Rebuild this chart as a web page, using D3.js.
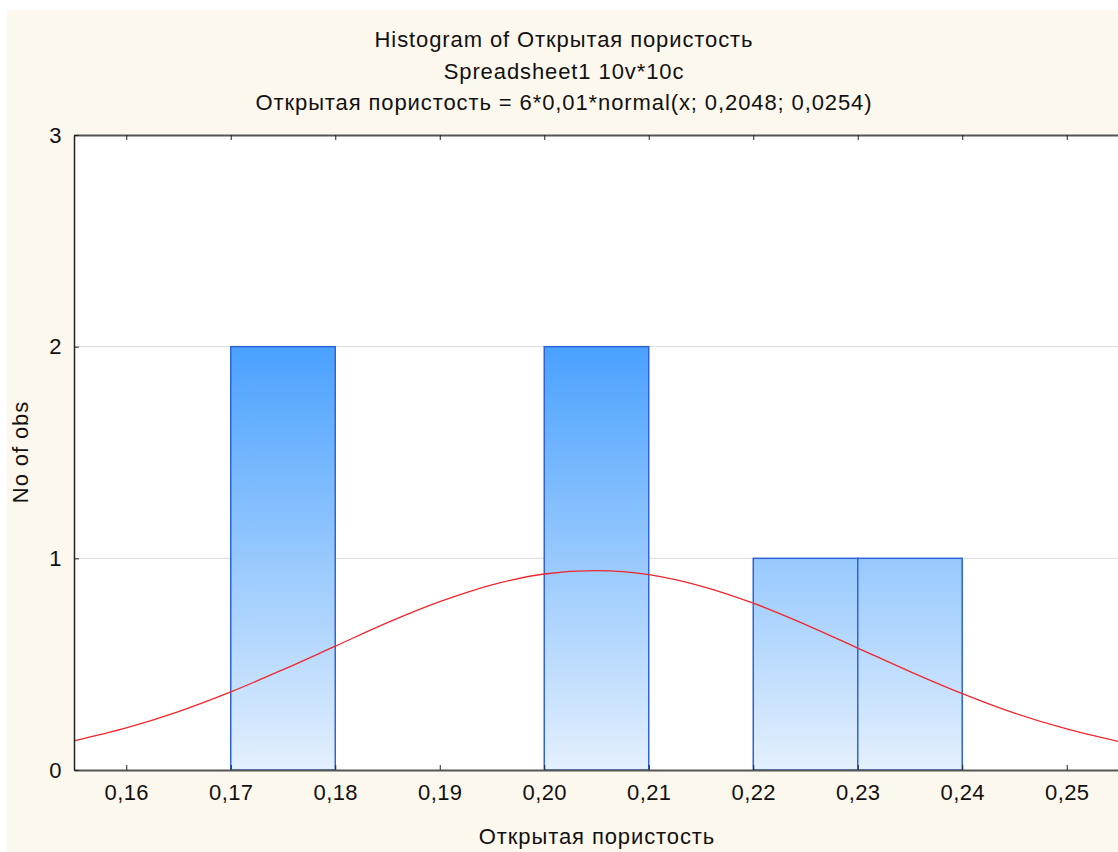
<!DOCTYPE html>
<meta charset="utf-8">
<style>
body { margin: 0; background: #fff; }
svg text { font-family: "Liberation Sans", Arial, sans-serif; fill: #111; }
.tick text { font-size: 22px; letter-spacing: 0.4px; }
.label { font-size: 22px; letter-spacing: 0.9px; }
</style>
<body>
<svg id="chart" width="1118" height="852"></svg>
<script src="https://cdn.jsdelivr.net/npm/d3@7/dist/d3.min.js"></script>
<script>
// histogram bins (lower edge, upper edge, count)
const binStart = [0.17, 0.20, 0.22, 0.23];
const binEnd   = [0.18, 0.21, 0.23, 0.24];
const counts   = [2, 2, 1, 1];

// fitted normal curve
const curveX = [0.155, 0.160, 0.165, 0.170, 0.175, 0.180, 0.185, 0.190, 0.195, 0.200, 0.205,
                0.210, 0.215, 0.220, 0.225, 0.230, 0.235, 0.240, 0.245, 0.250, 0.255];
const curveY = [0.138, 0.199, 0.276, 0.369, 0.474, 0.585, 0.696, 0.795, 0.875, 0.926, 0.942,
                0.923, 0.869, 0.788, 0.687, 0.576, 0.465, 0.361, 0.269, 0.194, 0.134];

const xTicks = [0.16, 0.17, 0.18, 0.19, 0.20, 0.21, 0.22, 0.23, 0.24, 0.25];
const yTicks = [0, 1, 2, 3];

const titleLines = [
  "Histogram of Открытая пористость",
  "Spreadsheet1 10v*10c",
  "Открытая пористость = 6*0,01*normal(x; 0,2048; 0,0254)"
];

const svg = d3.select("#chart");
const margin = {top: 135, left: 74, bottom: 770, right: 1119};

// beige frame
svg.append("rect").attr("x", 7).attr("y", 10).attr("width", 1111).attr("height", 842).attr("fill", "#fdf8ee");
svg.append("rect").attr("x", margin.left).attr("y", margin.top)
  .attr("width", margin.right - margin.left).attr("height", margin.bottom - margin.top).attr("fill", "#fff");

const x = d3.scaleLinear().domain([0.155, 0.255]).range([margin.left, margin.right]);
const y = d3.scaleLinear().domain([0, 3]).range([margin.bottom, margin.top]);

const fmt = d => d3.format(".2f")(d).replace(".", ",");

// grid
svg.append("g").selectAll("line").data([1, 2]).enter().append("line")
  .attr("x1", margin.left).attr("x2", margin.right)
  .attr("y1", d => y(d)).attr("y2", d => y(d))
  .attr("stroke", "#d9d9d9").attr("stroke-width", 1);

// gradient follows the plot, not each bar
const grad = svg.append("defs").append("linearGradient")
  .attr("id", "barGrad").attr("gradientUnits", "userSpaceOnUse")
  .attr("x1", 0).attr("x2", 0).attr("y1", y(2)).attr("y2", y(0));
grad.append("stop").attr("offset", 0).attr("stop-color", "#4aa1ff");
grad.append("stop").attr("offset", 1).attr("stop-color", "#e4f0fd");

svg.append("g").selectAll("rect").data(counts).enter().append("rect")
  .attr("x", (d, i) => x(binStart[i]))
  .attr("y", d => y(d))
  .attr("width", (d, i) => x(binEnd[i]) - x(binStart[i]))
  .attr("height", d => y(0) - y(d))
  .attr("fill", "url(#barGrad)")
  .attr("stroke", "#2f64d6").attr("stroke-width", 1.5);

// normal curve
const line = d3.line().x((d, i) => x(curveX[i])).y(d => y(d)).curve(d3.curveCatmullRom);
svg.append("path").datum(curveY)
  .attr("d", line).attr("fill", "none").attr("stroke", "#f0262b").attr("stroke-width", 1.3);

// axes
const xAxis = svg.append("g").attr("transform", "translate(0," + margin.bottom + ")")
  .call(d3.axisBottom(x).tickValues(xTicks).tickFormat(fmt).tickSizeInner(-5).tickSizeOuter(0).tickPadding(14));
xAxis.select(".domain").attr("stroke", "#555").attr("stroke-width", 2);
xAxis.selectAll(".tick line").attr("stroke", "#222");

const xTop = svg.append("g").attr("transform", "translate(0," + margin.top + ")")
  .call(d3.axisTop(x).tickValues(xTicks).tickFormat("").tickSizeInner(-5).tickSizeOuter(0));
xTop.select(".domain").attr("stroke", "#555").attr("stroke-width", 2);
xTop.selectAll(".tick line").attr("stroke", "#222");

const yAxis = svg.append("g").attr("transform", "translate(" + margin.left + ",0)")
  .call(d3.axisLeft(y).tickValues(yTicks).tickFormat(d3.format("d")).tickSizeInner(-5).tickSizeOuter(0).tickPadding(12));
yAxis.select(".domain").attr("stroke", "#222").attr("stroke-width", 1.5);
yAxis.selectAll(".tick line").attr("stroke", "#222");

// titles
svg.append("g").selectAll("text").data(titleLines).enter().append("text")
  .attr("class", "label")
  .attr("x", 564).attr("y", (d, i) => 47 + i * 31.5)
  .attr("text-anchor", "middle")
  .text(d => d);

svg.append("text").attr("class", "label").attr("x", 597).attr("y", 844)
  .attr("text-anchor", "middle")
  .text("Открытая пористость");

svg.append("text").attr("class", "label")
  .attr("transform", "translate(28,452) rotate(-90)")
  .attr("text-anchor", "middle")
  .text("No of obs");
</script>
</body>
